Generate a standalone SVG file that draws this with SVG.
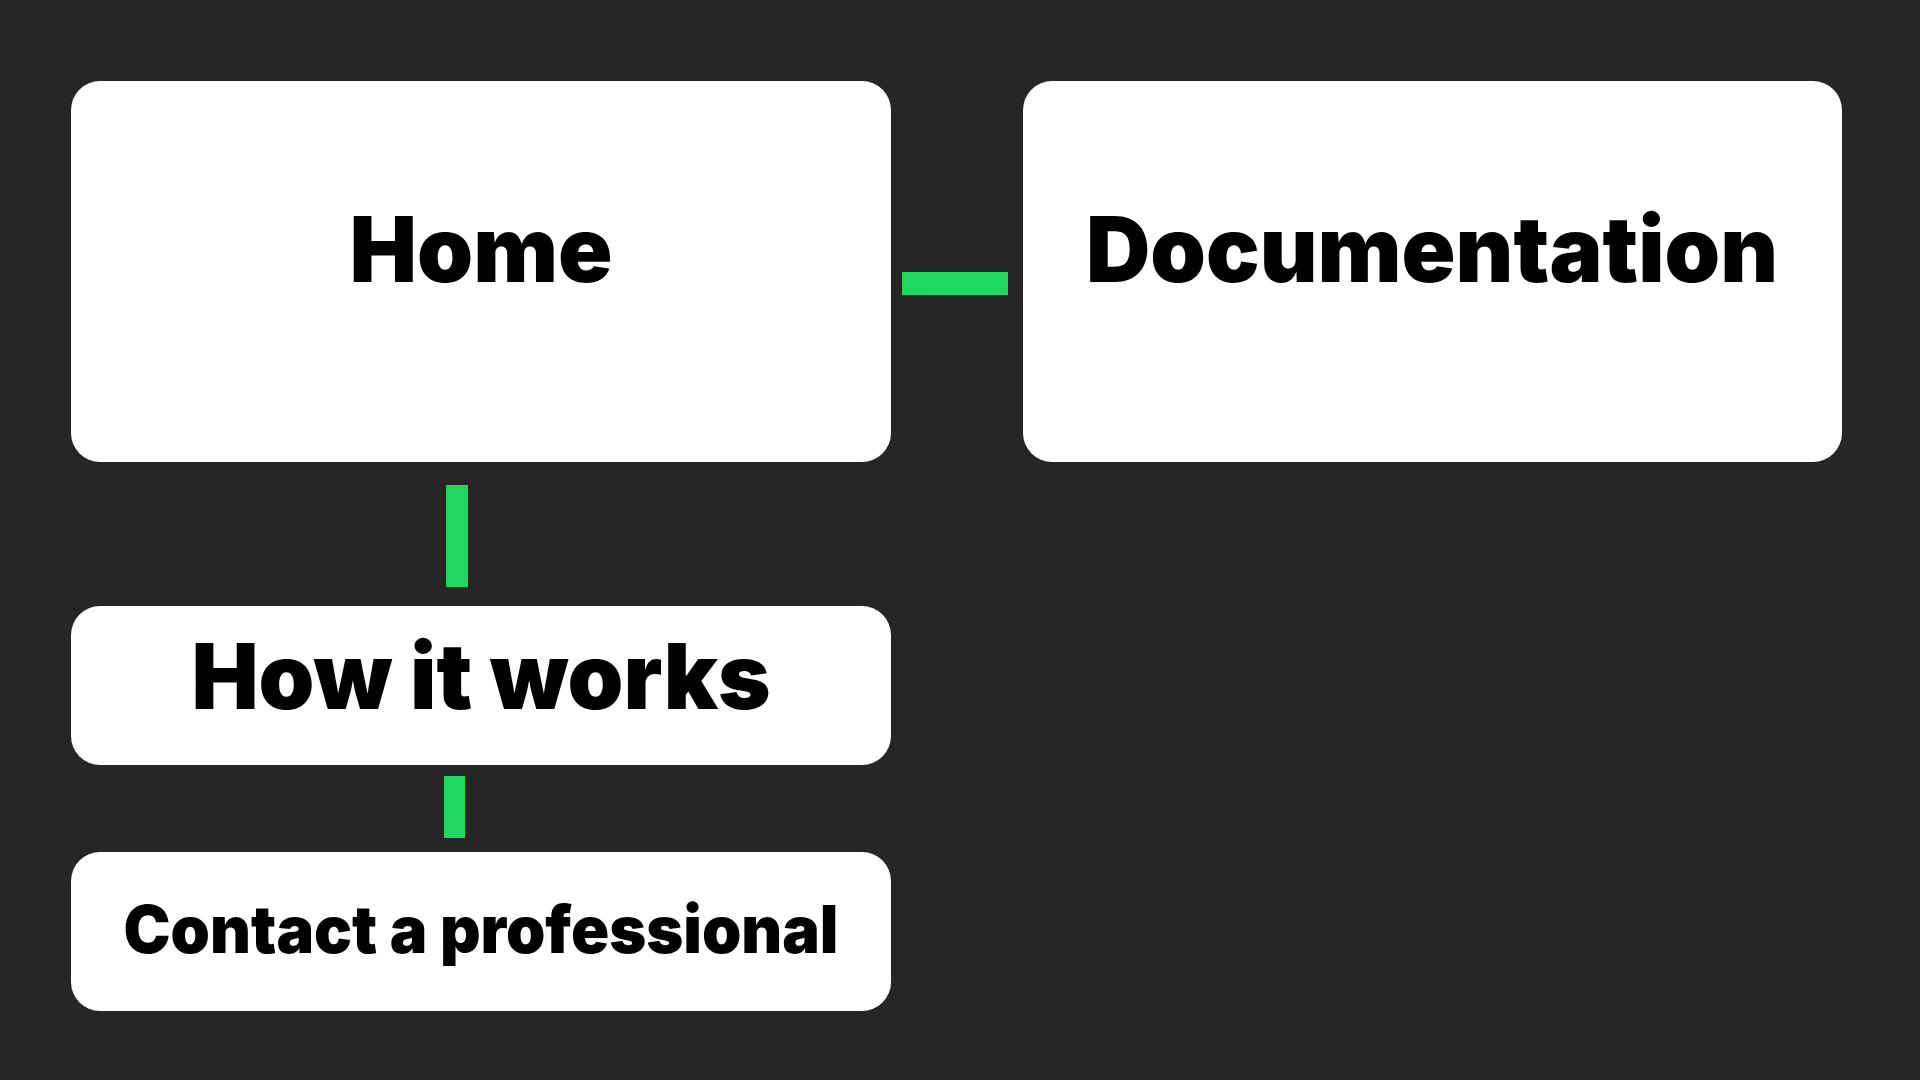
<svg xmlns="http://www.w3.org/2000/svg" width="1920" height="1080" viewBox="0 0 1920 1080">
  <style>
    .node { fill: #ffffff; }
    .label { font-family: Inter, "Liberation Sans", sans-serif; font-weight: 900; fill: #000000; text-anchor: middle; }
    .conn { fill: #1ed760; }
  </style>
  <rect x="0" y="0" width="1920" height="1080" fill="#262626"/>
  <g id="connectors">
    <rect class="conn" x="902" y="272" width="106" height="23"/>
    <rect class="conn" x="446" y="485" width="22" height="102"/>
    <rect class="conn" x="444" y="776" width="21" height="62"/>
  </g>
  <g id="node-home">
    <rect class="node" x="71" y="81" width="820" height="381" rx="29" ry="29"/>
    <text class="label" x="481" y="282" font-size="91" textLength="263" lengthAdjust="spacingAndGlyphs">Home</text>
  </g>
  <g id="node-documentation">
    <rect class="node" x="1023" y="81" width="819" height="381" rx="29" ry="29"/>
    <text class="label" x="1432" y="282" font-size="91" textLength="692" lengthAdjust="spacingAndGlyphs">Documentation</text>
  </g>
  <g id="node-how-it-works">
    <rect class="node" x="71" y="606" width="820" height="159" rx="29" ry="29"/>
    <text class="label" x="481" y="709" font-size="91" textLength="579" lengthAdjust="spacingAndGlyphs">How it works</text>
  </g>
  <g id="node-contact">
    <rect class="node" x="71" y="852" width="820" height="159" rx="29" ry="29"/>
    <text class="label" x="481" y="953" font-size="66" textLength="715" lengthAdjust="spacingAndGlyphs">Contact a professional</text>
  </g>
</svg>
